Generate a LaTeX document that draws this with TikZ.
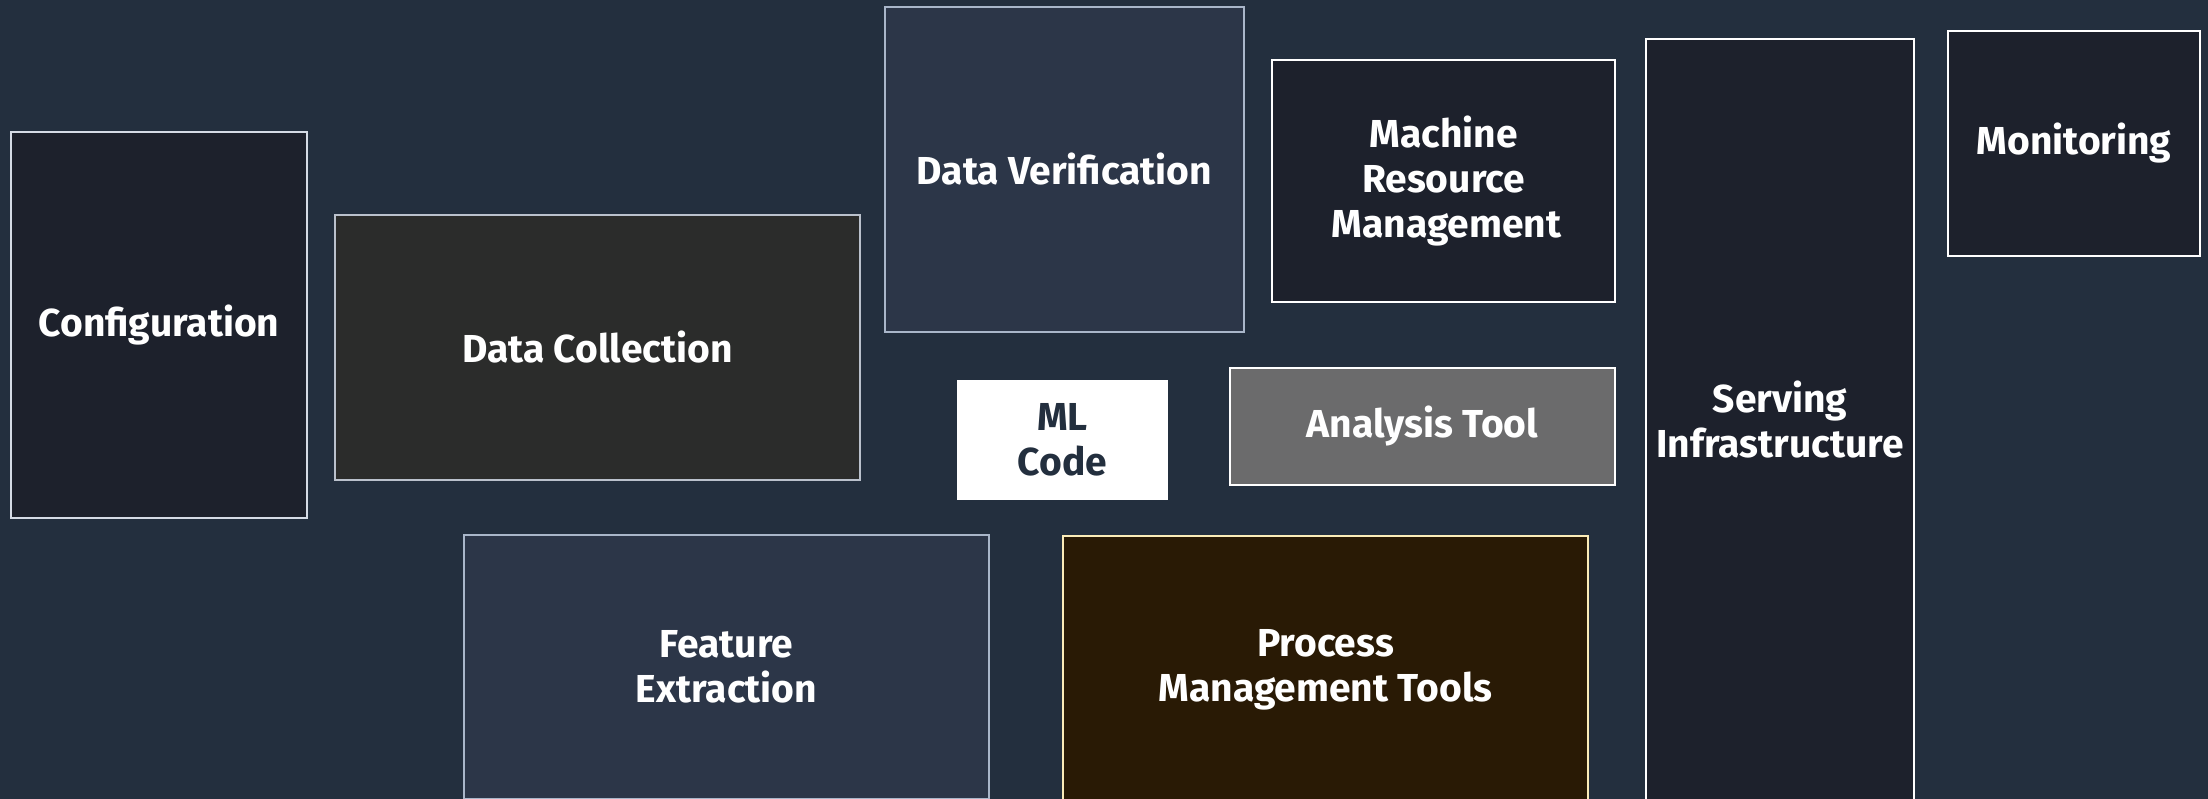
\documentclass[tikz,border=0pt]{standalone}
\usepackage{fontspec}
\setmainfont{Fira Sans}
\definecolor{bg}{HTML}{232F3E}
\definecolor{darkbox}{HTML}{1D212C}
\definecolor{slatebox}{HTML}{2C3648}
\definecolor{graybox}{HTML}{2B2C2B}
\definecolor{anabox}{HTML}{6B6B6C}
\definecolor{brownbox}{HTML}{291A05}
\definecolor{lightedge}{HTML}{D5DBE5}
\definecolor{blueedge}{HTML}{A9B6C9}
\definecolor{yellowedge}{HTML}{FBECB8}
\begin{document}
\begin{tikzpicture}[x=1pt,y=-1pt,
  box/.style={draw, line width=2pt, anchor=north west, inner sep=0pt, align=center,
    font=\fontsize{39}{45}\selectfont\bfseries, text=white}]
\useasboundingbox (0,0) rectangle (2208,799);
\fill[bg] (0,0) rectangle (2208,799);
\begin{scope}
\clip (0,0) rectangle (2208,799);
\node[box, fill=darkbox, draw=lightedge, minimum width=296pt, minimum height=386pt] (conf) at (10,131) {Configuration};
\node[box, fill=graybox, draw=lightedge!85!bg, minimum width=525pt, minimum height=265pt] (dcoll) at (334,214) {Data Collection};
\node[box, fill=slatebox, draw=blueedge, minimum width=359pt, minimum height=325pt] (dver) at (884,6) {Data Verification};
\node[box, fill=darkbox, draw=white, minimum width=343pt, minimum height=242pt] (mrm) at (1271,59) {Machine\\Resource\\\hspace*{6pt}Management};
\node[box, fill=darkbox, draw=white, minimum width=268pt, minimum height=762pt] (serv) at (1645,38) {Serving\\Infrastructure};
\node[box, fill=darkbox, draw=white, minimum width=252pt, minimum height=225pt] (mon) at (1947,30) {Monitoring};
\node[box, fill=white, draw=white, text=bg, minimum width=209pt, minimum height=118pt] (ml) at (957,380) {ML\\Code};
\node[box, fill=anabox, draw=white, minimum width=385pt, minimum height=117pt] (anal) at (1229,367) {Analysis Tool};
\node[box, fill=slatebox, draw=blueedge, minimum width=525pt, minimum height=264pt] (feat) at (463,534) {Feature\\Extraction};
\node[box, fill=brownbox, draw=yellowedge, minimum width=525pt, minimum height=268pt] (proc) at (1062,535) {Process\\Management Tools};
\end{scope}
\end{tikzpicture}
\end{document}
